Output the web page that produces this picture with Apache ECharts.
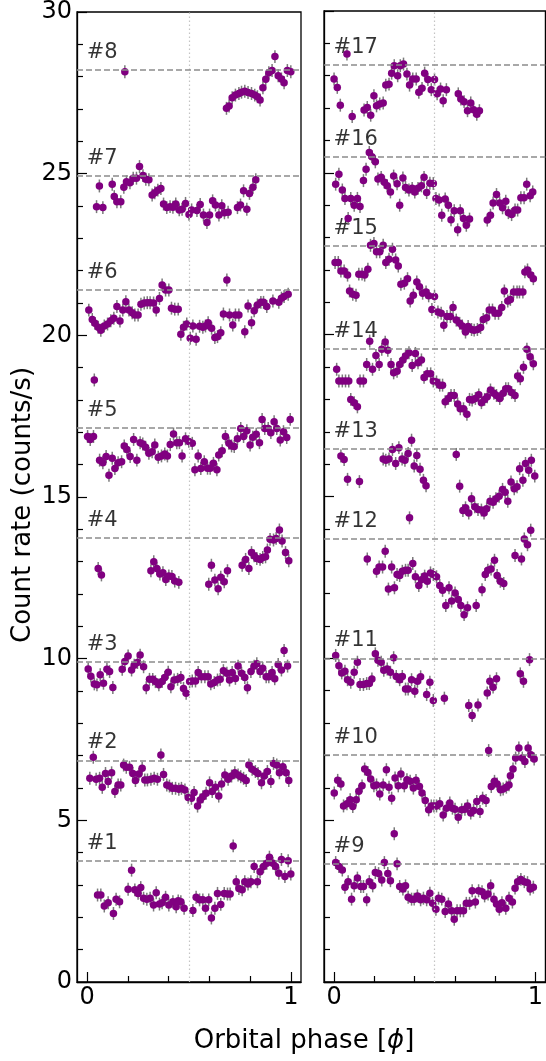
<!DOCTYPE html>
<html>
<head>
<meta charset="utf-8">
<script src="https://cdn.jsdelivr.net/npm/echarts@6/dist/echarts.min.js"></script>
<style>
  html, body { margin: 0; padding: 0; background: #fff; }
  #chart { width: 546px; height: 1061px; }
</style>
</head>
<body>
<div id="chart"></div>
<script>
// Folded light curves: [orbital phase, count rate]
const curve1 = [[0.051,2.69],[0.067,2.69],[0.084,2.35],[0.103,2.45],[0.129,2.12],[0.142,2.56],[0.159,2.48],[0.201,2.87],[0.218,3.46],[0.234,2.85],[0.25,2.74],[0.263,2.92],[0.277,2.59],[0.293,2.56],[0.309,2.59],[0.326,2.38],[0.339,2.76],[0.355,2.41],[0.368,2.45],[0.385,2.62],[0.401,2.38],[0.421,2.48],[0.437,2.33],[0.447,2.51],[0.46,2.48],[0.476,2.28],[0.519,2.21],[0.535,2.62],[0.552,2.54],[0.568,2.54],[0.581,2.28],[0.597,2.54],[0.61,1.98],[0.627,2.28],[0.64,2.74],[0.656,2.4],[0.673,2.74],[0.689,2.72],[0.702,2.72],[0.717,4.21],[0.732,3.1],[0.745,2.89],[0.761,2.85],[0.774,3.1],[0.79,3.03],[0.804,3.1],[0.82,3.57],[0.836,3.1],[0.849,3.41],[0.866,3.57],[0.882,3.67],[0.895,3.86],[0.912,3.67],[0.925,3.57],[0.941,3.36],[0.954,3.79],[0.971,3.26],[0.987,3.75],[1.0,3.34]];
const curve2 = [[0.013,6.3],[0.03,6.95],[0.044,6.27],[0.061,6.3],[0.074,6.02],[0.09,6.45],[0.103,6.2],[0.12,6.47],[0.136,5.89],[0.152,6.09],[0.165,6.09],[0.179,6.71],[0.192,6.64],[0.208,6.64],[0.224,6.45],[0.237,6.23],[0.254,6.43],[0.27,6.61],[0.283,6.25],[0.296,6.25],[0.313,6.27],[0.329,6.3],[0.345,6.27],[0.362,7.02],[0.375,6.42],[0.391,6.09],[0.404,6.06],[0.418,5.99],[0.434,5.99],[0.45,5.96],[0.463,5.99],[0.48,5.94],[0.496,5.71],[0.512,5.68],[0.525,5.86],[0.542,5.44],[0.555,5.63],[0.568,5.73],[0.584,5.84],[0.601,6.16],[0.614,5.89],[0.63,6.02],[0.646,5.75],[0.66,6.12],[0.676,6.4],[0.692,6.27],[0.709,6.37],[0.725,6.47],[0.741,6.4],[0.754,6.35],[0.768,6.3],[0.781,6.23],[0.794,6.71],[0.81,6.58],[0.826,6.51],[0.839,6.45],[0.856,6.16],[0.869,6.37],[0.885,6.51],[0.902,6.2],[0.915,6.76],[0.931,6.71],[0.944,6.47],[0.961,6.66],[0.977,6.47],[0.99,6.23]];
const curve3 = [[0.005,9.68],[0.018,9.46],[0.035,9.22],[0.048,9.19],[0.064,9.5],[0.08,9.24],[0.097,9.67],[0.11,9.6],[0.126,9.11],[0.172,9.67],[0.185,9.91],[0.201,10.08],[0.218,9.65],[0.231,9.8],[0.247,9.88],[0.26,10.11],[0.277,9.75],[0.29,9.1],[0.306,9.36],[0.322,9.36],[0.335,9.29],[0.352,9.19],[0.368,9.29],[0.381,9.42],[0.398,9.58],[0.411,9.13],[0.427,9.34],[0.444,9.36],[0.46,9.42],[0.473,9.08],[0.486,8.93],[0.503,9.29],[0.516,9.31],[0.532,9.31],[0.545,9.57],[0.561,9.44],[0.578,9.44],[0.594,9.44],[0.607,9.22],[0.624,9.26],[0.64,9.34],[0.653,9.36],[0.669,9.63],[0.686,9.55],[0.699,9.34],[0.712,9.57],[0.728,9.39],[0.741,9.77],[0.758,9.55],[0.774,9.42],[0.787,9.1],[0.804,9.6],[0.82,9.77],[0.833,9.84],[0.849,9.6],[0.862,9.7],[0.879,9.44],[0.892,9.44],[0.908,9.57],[0.921,9.38],[0.938,9.82],[0.954,9.65],[0.967,10.25],[0.984,9.77]];
const curve4 = [[0.054,12.79],[0.07,12.59],[0.313,12.72],[0.327,13.0],[0.342,12.79],[0.357,12.62],[0.372,12.66],[0.386,12.45],[0.401,12.56],[0.416,12.54],[0.43,12.4],[0.45,12.36],[0.597,12.3],[0.61,12.89],[0.627,12.43],[0.643,12.16],[0.656,12.52],[0.673,12.38],[0.689,12.72],[0.761,12.89],[0.778,13.07],[0.794,12.79],[0.807,13.28],[0.82,13.18],[0.833,13.1],[0.849,13.07],[0.862,13.13],[0.876,13.15],[0.885,13.36],[0.898,13.69],[0.915,13.67],[0.928,13.72],[0.944,13.98],[0.957,13.64],[0.974,13.28],[0.99,13.03]];
const curve5 = [[0.002,16.87],[0.015,16.78],[0.031,16.87],[0.035,18.62],[0.061,16.14],[0.077,16.06],[0.093,16.25],[0.107,15.67],[0.123,16.2],[0.136,15.88],[0.152,16.06],[0.169,16.09],[0.182,16.58],[0.195,16.47],[0.211,16.25],[0.228,16.78],[0.244,16.14],[0.26,16.68],[0.273,16.64],[0.287,16.54],[0.303,16.35],[0.319,16.4],[0.332,16.61],[0.349,16.23],[0.365,16.27],[0.381,16.33],[0.394,16.27],[0.408,16.62],[0.424,16.95],[0.44,16.68],[0.453,16.68],[0.466,16.27],[0.483,16.8],[0.499,16.72],[0.516,16.66],[0.529,15.84],[0.545,16.27],[0.558,15.88],[0.575,16.09],[0.591,15.89],[0.604,15.89],[0.62,16.04],[0.637,15.84],[0.646,16.3],[0.663,16.43],[0.679,16.87],[0.696,16.66],[0.709,16.58],[0.722,16.56],[0.738,16.8],[0.754,17.12],[0.768,16.87],[0.784,17.05],[0.8,16.61],[0.813,16.85],[0.83,16.94],[0.846,16.68],[0.859,17.4],[0.872,17.12],[0.889,17.12],[0.902,16.99],[0.918,17.33],[0.931,17.12],[0.948,16.76],[0.964,17.02],[0.98,16.84],[0.997,17.4]];
const curve6 = [[0.008,20.78],[0.025,20.49],[0.038,20.37],[0.054,20.25],[0.067,20.16],[0.084,20.29],[0.1,20.35],[0.116,20.45],[0.131,20.53],[0.146,20.89],[0.161,20.44],[0.175,20.78],[0.19,21.04],[0.205,20.78],[0.221,20.7],[0.234,20.63],[0.25,20.63],[0.264,20.96],[0.28,21.0],[0.295,21.01],[0.309,21.01],[0.326,21.0],[0.339,20.78],[0.355,21.14],[0.368,21.56],[0.385,21.4],[0.401,21.4],[0.414,20.84],[0.43,20.81],[0.447,20.81],[0.46,20.03],[0.473,20.25],[0.489,20.35],[0.506,19.91],[0.519,20.29],[0.535,19.88],[0.552,20.28],[0.568,20.25],[0.581,20.29],[0.594,20.39],[0.611,20.22],[0.627,19.93],[0.64,19.96],[0.656,20.08],[0.669,20.66],[0.686,21.71],[0.699,20.63],[0.715,20.32],[0.728,20.63],[0.745,20.63],[0.774,20.11],[0.79,20.91],[0.807,20.39],[0.82,20.76],[0.836,20.94],[0.853,21.02],[0.866,21.02],[0.882,20.89],[0.912,21.06],[0.941,21.02],[0.954,21.15],[0.967,21.2],[0.987,21.27]];
const curve7 = [[0.046,23.98],[0.06,24.62],[0.077,23.95],[0.123,24.67],[0.133,24.29],[0.146,24.13],[0.165,24.13],[0.18,24.58],[0.193,24.75],[0.21,24.72],[0.226,24.86],[0.242,24.86],[0.257,25.22],[0.274,24.94],[0.288,24.83],[0.303,24.81],[0.319,24.34],[0.332,24.41],[0.347,24.49],[0.362,24.54],[0.375,24.06],[0.391,23.95],[0.407,23.98],[0.421,23.96],[0.435,24.06],[0.452,23.88],[0.466,23.9],[0.483,24.08],[0.5,23.74],[0.513,23.88],[0.539,23.86],[0.555,24.05],[0.571,23.72],[0.588,23.49],[0.601,23.72],[0.616,24.16],[0.63,24.03],[0.647,23.72],[0.661,24.01],[0.674,23.79],[0.692,23.81],[0.738,23.95],[0.753,24.03],[0.768,24.47],[0.784,23.9],[0.797,24.39],[0.814,24.58],[0.828,24.81]];
const curve8 = [[0.185,28.15],[0.684,27.02],[0.697,27.09],[0.712,27.35],[0.728,27.43],[0.745,27.48],[0.758,27.52],[0.774,27.55],[0.79,27.51],[0.807,27.48],[0.823,27.43],[0.836,27.38],[0.849,27.28],[0.863,27.66],[0.877,27.92],[0.892,28.12],[0.908,28.19],[0.922,28.62],[0.938,28.03],[0.954,27.93],[0.967,27.81],[0.983,28.19],[1.0,28.15]];
const curve9 = [[0.008,3.69],[0.024,3.57],[0.041,3.46],[0.054,2.93],[0.07,3.1],[0.087,2.56],[0.1,2.97],[0.116,3.21],[0.133,2.95],[0.146,2.95],[0.162,2.54],[0.175,3.1],[0.192,2.97],[0.205,3.38],[0.221,3.35],[0.237,3.15],[0.25,3.69],[0.267,3.35],[0.28,3.13],[0.299,4.58],[0.313,3.65],[0.326,2.95],[0.342,2.87],[0.355,2.97],[0.368,2.62],[0.385,2.56],[0.398,2.56],[0.414,2.66],[0.43,2.54],[0.444,2.59],[0.46,2.54],[0.476,2.74],[0.489,2.43],[0.506,2.25],[0.519,2.59],[0.535,2.56],[0.552,2.18],[0.568,2.41],[0.584,2.2],[0.597,1.94],[0.611,2.2],[0.627,2.2],[0.643,2.2],[0.657,2.43],[0.673,2.43],[0.686,2.82],[0.702,2.47],[0.718,2.82],[0.735,2.79],[0.748,2.66],[0.765,2.72],[0.778,2.97],[0.794,2.56],[0.807,2.41],[0.821,2.25],[0.834,2.45],[0.853,2.28],[0.869,2.59],[0.886,2.47],[0.899,2.9],[0.912,3.1],[0.928,3.17],[0.945,3.1],[0.961,3.07],[0.974,2.87],[0.99,2.93]];
const curve10 = [[0.001,5.84],[0.018,6.23],[0.034,6.12],[0.047,5.44],[0.064,5.51],[0.08,5.63],[0.093,5.42],[0.11,5.63],[0.123,5.89],[0.139,6.06],[0.152,6.58],[0.168,6.47],[0.182,6.27],[0.198,6.06],[0.211,6.09],[0.227,5.81],[0.244,6.09],[0.26,6.56],[0.273,6.02],[0.286,5.68],[0.303,6.3],[0.319,6.06],[0.332,6.43],[0.349,6.06],[0.362,6.25],[0.378,6.2],[0.394,5.99],[0.407,6.23],[0.424,6.04],[0.437,5.84],[0.453,5.61],[0.47,5.32],[0.483,5.44],[0.496,5.44],[0.509,5.44],[0.525,5.51],[0.542,5.16],[0.558,5.37],[0.575,5.53],[0.588,5.37],[0.601,5.34],[0.617,5.09],[0.634,5.32],[0.65,5.34],[0.663,5.44],[0.679,5.22],[0.693,5.3],[0.709,5.58],[0.725,5.27],[0.738,5.68],[0.755,5.61],[0.768,7.15],[0.781,6.04],[0.797,6.2],[0.81,6.12],[0.827,5.94],[0.84,5.96],[0.856,6.02],[0.869,6.09],[0.876,6.37],[0.889,6.58],[0.902,6.92],[0.918,7.23],[0.935,6.92],[0.948,6.81],[0.964,7.23],[0.977,7.02],[0.994,6.89]];
const curve11 = [[0.008,10.09],[0.024,9.77],[0.038,9.55],[0.054,9.6],[0.067,9.34],[0.083,9.26],[0.1,9.57],[0.116,9.88],[0.129,9.19],[0.146,9.19],[0.162,9.22],[0.175,9.22],[0.188,9.36],[0.205,10.14],[0.218,9.94],[0.234,9.88],[0.247,9.63],[0.264,9.67],[0.28,9.57],[0.296,10.02],[0.309,9.44],[0.326,9.34],[0.339,9.44],[0.355,9.05],[0.368,9.05],[0.385,9.34],[0.401,8.98],[0.414,9.29],[0.43,9.43],[0.46,8.88],[0.476,9.26],[0.493,8.7],[0.548,8.77],[0.669,8.54],[0.686,8.23],[0.715,8.56],[0.761,8.93],[0.774,9.29],[0.79,9.11],[0.807,9.37],[0.925,9.52],[0.941,9.29],[0.971,9.96]];
const curve12 = [[0.165,13.07],[0.211,12.69],[0.224,12.82],[0.241,12.82],[0.254,13.31],[0.27,12.14],[0.286,12.82],[0.3,12.18],[0.313,12.59],[0.326,12.56],[0.339,12.69],[0.355,12.72],[0.368,12.72],[0.391,12.93],[0.404,12.52],[0.421,12.25],[0.434,12.43],[0.45,12.54],[0.463,12.38],[0.479,12.64],[0.493,12.59],[0.509,12.52],[0.525,12.25],[0.539,12.1],[0.555,11.63],[0.571,12.18],[0.584,11.77],[0.601,12.02],[0.617,11.82],[0.63,11.63],[0.646,11.35],[0.663,11.56],[0.706,11.63],[0.735,12.12],[0.751,12.59],[0.764,12.72],[0.78,12.76],[0.797,13.03],[0.81,12.56],[0.826,12.38],[0.843,12.31],[0.899,13.18],[0.931,13.07],[0.945,13.69],[0.961,13.51],[0.977,13.96]];
const curve13 = [[0.034,16.25],[0.05,16.14],[0.067,15.53],[0.126,15.46],[0.244,16.16],[0.257,16.12],[0.273,16.16],[0.29,16.45],[0.306,16.02],[0.322,16.51],[0.338,16.16],[0.352,16.12],[0.368,16.33],[0.375,14.34],[0.385,16.74],[0.398,15.94],[0.411,16.27],[0.427,15.84],[0.444,15.5],[0.457,15.33],[0.607,16.3],[0.624,15.32],[0.64,14.57],[0.653,14.65],[0.669,14.49],[0.683,14.93],[0.699,14.68],[0.715,14.6],[0.732,14.58],[0.745,14.49],[0.758,14.62],[0.775,14.85],[0.79,14.82],[0.804,14.93],[0.82,15.01],[0.837,15.22],[0.85,15.13],[0.863,14.85],[0.879,15.45],[0.895,15.24],[0.909,15.3],[0.922,15.86],[0.938,15.5],[0.951,16.02],[0.967,15.81],[0.98,16.12],[0.997,15.63]];
const curve14 = [[0.013,18.93],[0.024,18.57],[0.041,18.57],[0.057,18.57],[0.073,18.57],[0.083,18.0],[0.1,17.9],[0.116,17.77],[0.129,18.57],[0.146,18.57],[0.162,19.08],[0.177,19.8],[0.191,18.93],[0.208,19.36],[0.224,19.08],[0.237,19.55],[0.254,19.77],[0.267,19.52],[0.283,19.08],[0.296,18.82],[0.313,18.87],[0.326,19.08],[0.342,19.22],[0.355,19.34],[0.372,19.44],[0.388,19.05],[0.404,19.42],[0.417,19.13],[0.434,19.22],[0.447,18.68],[0.463,18.79],[0.48,18.79],[0.493,18.57],[0.509,18.54],[0.525,18.44],[0.539,18.44],[0.552,17.93],[0.568,18.03],[0.581,18.12],[0.597,18.12],[0.614,17.86],[0.627,17.71],[0.643,17.71],[0.66,17.54],[0.673,18.0],[0.686,17.98],[0.702,18.03],[0.719,18.14],[0.732,17.9],[0.748,18.0],[0.761,18.08],[0.777,18.29],[0.794,18.19],[0.807,18.12],[0.823,18.03],[0.84,18.19],[0.853,18.33],[0.866,18.33],[0.882,18.21],[0.899,18.12],[0.912,18.72],[0.925,18.64],[0.941,18.99],[0.958,19.55],[0.974,19.32],[0.99,19.1]];
const curve15 = [[0.005,22.23],[0.021,22.23],[0.034,21.97],[0.05,21.97],[0.067,21.84],[0.077,21.35],[0.093,21.25],[0.109,21.22],[0.123,21.87],[0.139,21.87],[0.152,21.84],[0.168,22.02],[0.181,22.76],[0.198,22.82],[0.211,22.56],[0.227,22.56],[0.244,22.76],[0.257,22.23],[0.273,22.33],[0.29,22.64],[0.306,22.31],[0.319,22.12],[0.332,21.56],[0.349,21.59],[0.365,21.73],[0.378,21.04],[0.394,21.22],[0.411,21.63],[0.424,21.48],[0.44,21.28],[0.457,21.32],[0.47,21.2],[0.486,20.78],[0.499,21.18],[0.516,20.7],[0.532,20.66],[0.545,20.29],[0.561,20.56],[0.578,20.56],[0.591,20.84],[0.607,20.45],[0.624,20.35],[0.637,20.27],[0.653,20.08],[0.666,20.25],[0.683,20.16],[0.696,20.14],[0.712,20.16],[0.728,20.22],[0.741,20.47],[0.758,20.52],[0.771,20.76],[0.787,20.76],[0.8,20.66],[0.817,20.66],[0.833,20.84],[0.846,21.35],[0.863,21.04],[0.876,21.09],[0.892,21.32],[0.909,21.32],[0.921,21.32],[0.938,21.32],[0.948,21.94],[0.961,22.0],[0.977,21.84],[0.99,21.73]];
const curve16 = [[0.008,24.65],[0.024,24.96],[0.041,24.47],[0.054,24.21],[0.07,23.59],[0.083,24.21],[0.1,24.0],[0.116,24.21],[0.129,23.96],[0.146,24.76],[0.159,25.11],[0.175,25.63],[0.188,25.5],[0.205,25.34],[0.218,24.81],[0.234,24.86],[0.25,24.71],[0.264,24.6],[0.28,24.41],[0.296,24.9],[0.313,24.66],[0.326,24.0],[0.342,24.84],[0.355,24.55],[0.372,24.47],[0.388,24.52],[0.401,24.41],[0.417,24.52],[0.434,24.6],[0.447,24.86],[0.46,24.39],[0.476,24.68],[0.493,24.67],[0.506,24.21],[0.522,24.16],[0.535,23.69],[0.552,24.19],[0.568,24.0],[0.581,23.55],[0.597,23.83],[0.614,23.24],[0.627,23.83],[0.643,23.59],[0.657,23.38],[0.673,23.57],[0.761,23.54],[0.777,23.69],[0.79,24.07],[0.807,24.33],[0.823,24.07],[0.837,23.92],[0.853,24.12],[0.866,23.77],[0.882,23.71],[0.899,23.85],[0.912,23.85],[0.928,24.23],[0.944,24.23],[0.957,24.65],[0.974,24.29],[0.987,24.41]];
const curve17 = [[0.0,27.9],[0.016,27.64],[0.031,27.09],[0.064,28.67],[0.09,26.74],[0.149,26.94],[0.165,27.02],[0.182,26.78],[0.198,27.38],[0.211,27.07],[0.227,27.13],[0.244,27.16],[0.257,27.71],[0.273,27.74],[0.286,28.08],[0.299,28.31],[0.316,28.0],[0.329,28.31],[0.345,28.36],[0.362,28.05],[0.375,27.71],[0.391,27.9],[0.408,27.9],[0.421,27.49],[0.437,27.61],[0.45,28.08],[0.466,27.88],[0.483,27.57],[0.499,27.88],[0.512,27.44],[0.529,27.59],[0.542,27.23],[0.558,27.57],[0.617,27.44],[0.63,27.28],[0.646,27.2],[0.663,26.92],[0.679,27.16],[0.693,26.95],[0.709,26.81],[0.722,26.92]];

// Panel contents
const leftCurves = [curve1, curve2, curve3, curve4, curve5, curve6, curve7, curve8];
const rightCurves = [curve9, curve10, curve11, curve12, curve13, curve14, curve15, curve16, curve17];
const leftLevels = [3.75, 6.85, 9.9, 13.74, 17.14, 21.4, 24.94, 28.2];
const rightLevels = [3.65, 7.01, 10.0, 13.69, 16.47, 19.55, 22.74, 25.5, 28.33];
const leftTags = ['#1', '#2', '#3', '#4', '#5', '#6', '#7', '#8'];
const rightTags = ['#9', '#10', '#11', '#12', '#13', '#14', '#15', '#16', '#17'];
const phaseLabels = [0, 1];
const phaseMinorTicks = [0.2, 0.4, 0.6, 0.8];
const rateErr = 0.2;

const FONT = 'DejaVu Sans';
const chart = echarts.init(document.getElementById('chart'), null, { renderer: 'canvas' });

const panels = [
  { left: 77, curves: leftCurves, levels: leftLevels, tags: leftTags, showY: true },
  { left: 324, curves: rightCurves, levels: rightLevels, tags: rightTags, showY: false }
];

const grids = [], xAxes = [], yAxes = [], series = [];

panels.forEach((p, gi) => {
  grids.push({ left: p.left, top: 11, width: 224, height: 971, show: true,
    borderColor: '#000', borderWidth: 1.3, backgroundColor: 'transparent' });

  // major x ticks with labels
  xAxes.push({ type: 'value', gridIndex: gi, min: -0.05, max: 1.05, position: 'bottom',
    axisLine: { show: true, onZero: false, lineStyle: { color: '#000', width: 1.3 } },
    axisTick: { show: true, inside: true, length: 10, customValues: phaseLabels, lineStyle: { color: '#000', width: 1.2 } },
    axisLabel: { show: true, customValues: phaseLabels, fontSize: 24, fontFamily: FONT, color: '#000', margin: 4 },
    splitLine: { show: false } });
  // minor x ticks
  xAxes.push({ type: 'value', gridIndex: gi, min: -0.05, max: 1.05, position: 'bottom',
    axisLine: { show: false },
    axisTick: { show: true, inside: true, length: 6, customValues: phaseMinorTicks, lineStyle: { color: '#000', width: 1.2 } },
    axisLabel: { show: false },
    splitLine: { show: false } });

  yAxes.push({ type: 'value', gridIndex: gi, min: 0, max: 30, interval: 5, position: 'left',
    axisLine: { show: true, onZero: false, lineStyle: { color: '#000', width: 1.3 } },
    axisTick: { show: true, inside: true, length: 10, lineStyle: { color: '#000', width: 1.2 } },
    minorTick: { show: true, splitNumber: 5, length: 6, lineStyle: { color: '#000', width: 1.2 } },
    axisLabel: { show: p.showY, fontSize: 24, fontFamily: FONT, color: '#000', margin: 5 },
    splitLine: { show: false }, minorSplitLine: { show: false } });

  const xi = gi * 2, yi = gi;

  // reference levels, phase 0.5 marker and curve tags
  series.push({
    type: 'scatter', xAxisIndex: xi, yAxisIndex: yi, silent: true, z: 1,
    symbolSize: 1, itemStyle: { color: 'transparent' },
    data: p.levels.map(v => [0, v]),
    label: { show: true, position: [0, -17], align: 'left', verticalAlign: 'middle',
      formatter: (d) => p.tags[d.dataIndex], fontSize: 21, fontFamily: FONT, color: '#000' },
    markLine: {
      silent: true, symbol: ['none', 'none'], animation: false,
      label: { show: false },
      data: [
        { xAxis: 0.5, lineStyle: { color: '#c4c4c4', type: [1.5, 2.5], width: 1.2 } },
        ...p.levels.map(v => ({ yAxis: v, lineStyle: { color: '#8c8c8c', type: [6, 3], width: 1.5 } }))
      ]
    }
  });

  p.curves.forEach((c) => {
    series.push({
      type: 'custom', xAxisIndex: xi, yAxisIndex: yi, z: 2, silent: true,
      data: c, encode: { x: 0, y: 1 },
      renderItem: (params, api) => {
        const x = api.value(0), y = api.value(1);
        const lo = api.coord([x, y - rateErr]);
        const hi = api.coord([x, y + rateErr]);
        return { type: 'line', shape: { x1: lo[0], y1: lo[1], x2: hi[0], y2: hi[1] },
          style: { stroke: '#7a7a7a', lineWidth: 1.5 } };
      }
    });
    series.push({
      type: 'scatter', xAxisIndex: xi, yAxisIndex: yi, z: 3, silent: true,
      data: c, symbol: 'circle', symbolSize: 7.5,
      itemStyle: { color: '#800080', opacity: 1 }
    });
  });
});

chart.setOption({
  animation: false,
  backgroundColor: '#fff',
  grid: grids,
  xAxis: xAxes,
  yAxis: yAxes,
  series: series,
  graphic: [
    { type: 'text', x: 304, y: 1041, silent: true,
      style: { text: 'Orbital phase [{i|ϕ}]', fontSize: 26, fontFamily: FONT, fill: '#000',
        align: 'center', verticalAlign: 'middle',
        rich: { i: { fontSize: 26, fontFamily: FONT, fontStyle: 'italic', fill: '#000' } } } },
    { type: 'text', x: 23, y: 643, rotation: Math.PI / 2, silent: true,
      style: { text: 'Count rate (counts/s)', fontSize: 26, fontFamily: FONT, fill: '#000',
        align: 'left', verticalAlign: 'middle' } }
  ]
});
</script>
</body>
</html>
